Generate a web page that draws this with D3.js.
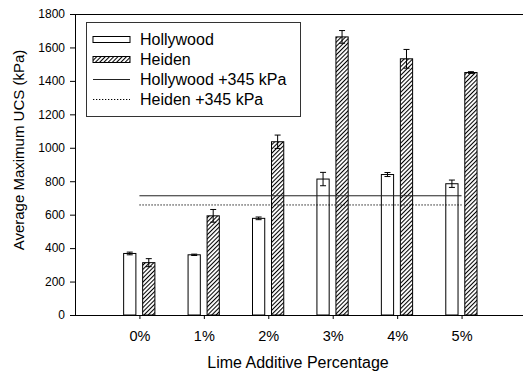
<!DOCTYPE html>
<html>
<head>
<meta charset="utf-8">
<script src="https://cdn.jsdelivr.net/npm/d3@7"></script>
<style>
  html, body { margin: 0; padding: 0; background: #fff; }
  svg { display: block; font-family: "Liberation Sans", Arial, sans-serif; }
</style>
</head>
<body>
<svg id="chart" width="523" height="373"></svg>
<script>
// Lime additive levels and average maximum UCS (kPa) per soil
const categories = ["0%", "1%", "2%", "3%", "4%", "5%"];
const hollywood = [368, 360, 578, 813, 840, 785];
const hollywoodErr = [8, 4, 8, 40, 12, 22];
const heiden = [313, 593, 1036, 1663, 1532, 1450];
const heidenErr = [24, 38, 40, 38, 56, 5];
const increment = 345;   // target strength gain over untreated soil
const yTicks = [0, 200, 400, 600, 800, 1000, 1200, 1400, 1600, 1800];
const legendLabels = ["Hollywood", "Heiden", "Hollywood +345 kPa", "Heiden +345 kPa"];

const svg = d3.select("#chart");
const plotLeft = 75, plotRight = 526, plotTop = 14, plotBottom = 315;

const x = d3.scaleLinear().domain([-1, 6]).range([plotLeft, plotRight]);
const y = d3.scaleLinear().domain([0, 1800]).range([plotBottom, plotTop]);

// diagonal hatch for Heiden bars
const defs = svg.append("defs");
defs.append("pattern")
  .attr("id", "hatch")
  .attr("patternUnits", "userSpaceOnUse")
  .attr("width", 3).attr("height", 3)
  .attr("patternTransform", "rotate(45)")
  .call(p => {
    p.append("rect").attr("width", 3).attr("height", 3).attr("fill", "#fff");
    p.append("line").attr("x1", 0.5).attr("y1", 0).attr("x2", 0.5).attr("y2", 3)
      .attr("stroke", "#000").attr("stroke-width", 1.1);
  });

const barW = 0.19;
const offH = -0.15, offD = 0.145;

function drawBars(vals, errs, off, fill) {
  const g = svg.append("g");
  vals.forEach((v, i) => {
    const x0 = x(i + off - barW / 2), x1 = x(i + off + barW / 2);
    g.append("rect")
      .attr("x", x0).attr("y", y(v))
      .attr("width", x1 - x0).attr("height", y(0) - y(v))
      .attr("fill", fill).attr("stroke", "#000").attr("stroke-width", 1);
  });
  vals.forEach((v, i) => {
    const cx = x(i + off), e = errs[i];
    g.append("line").attr("x1", cx).attr("x2", cx)
      .attr("y1", y(v + e)).attr("y2", y(v - e))
      .attr("stroke", "#000").attr("stroke-width", 1);
    [v + e, v - e].forEach(t => {
      g.append("line").attr("x1", cx - 3).attr("x2", cx + 3)
        .attr("y1", y(t)).attr("y2", y(t))
        .attr("stroke", "#000").attr("stroke-width", 1);
    });
  });
}
drawBars(hollywood, hollywoodErr, offH, "#fff");
drawBars(heiden, heidenErr, offD, "url(#hatch)");

// reference lines: untreated strength + 345 kPa
svg.append("line")
  .attr("x1", x(0)).attr("x2", x(categories.length - 1))
  .attr("y1", y(hollywood[0] + increment)).attr("y2", y(hollywood[0] + increment))
  .attr("stroke", "#222").attr("stroke-width", 1);
svg.append("line")
  .attr("x1", x(0)).attr("x2", x(categories.length - 1))
  .attr("y1", y(heiden[0] + increment)).attr("y2", y(heiden[0] + increment))
  .attr("stroke", "#000").attr("stroke-width", 1).attr("stroke-dasharray", "1.3,1.7");

// axes
const yAxis = svg.append("g")
  .attr("transform", `translate(${plotLeft},0)`)
  .call(d3.axisLeft(y).tickValues(yTicks).tickSize(5).tickPadding(5).tickFormat(d3.format("d")));
yAxis.select(".domain").attr("d", `M0.5,${plotTop}V${plotBottom}`);
yAxis.selectAll("text").attr("font-size", 12).attr("fill", "#000").attr("font-family", "Liberation Sans, Arial, sans-serif");

const xAxis = svg.append("g")
  .attr("transform", `translate(0,${plotBottom})`)
  .call(d3.axisBottom(x).tickValues(d3.range(categories.length))
    .tickFormat(i => categories[i]).tickSize(4).tickPadding(12));
xAxis.select(".domain").attr("d", `M${plotLeft},0.5H523`);
xAxis.selectAll("text").attr("font-size", 14.5).attr("fill", "#000").attr("font-family", "Liberation Sans, Arial, sans-serif");

// top frame line
svg.append("line").attr("x1", plotLeft).attr("x2", 523).attr("y1", plotTop + 0.5).attr("y2", plotTop + 0.5)
  .attr("stroke", "#000").attr("stroke-width", 1);

// axis titles
svg.append("text")
  .attr("transform", "translate(24,150) rotate(-90)")
  .attr("text-anchor", "middle").attr("font-size", 15).attr("fill", "#000")
  .text("Average Maximum UCS (kPa)");
svg.append("text")
  .attr("x", 298).attr("y", 368)
  .attr("text-anchor", "middle").attr("font-size", 16).attr("fill", "#000")
  .text("Lime Additive Percentage");

// legend
const lg = svg.append("g");
lg.append("rect").attr("x", 86.5).attr("y", 22.5).attr("width", 214).attr("height", 94)
  .attr("fill", "#fff").attr("stroke", "#333").attr("stroke-width", 1);
const rowY = [39.5, 59.5, 79.5, 99.5];
const sx0 = 93, sx1 = 130;
lg.append("rect").attr("x", sx0).attr("y", rowY[0] - 3).attr("width", sx1 - sx0).attr("height", 6)
  .attr("fill", "#fff").attr("stroke", "#000");
lg.append("rect").attr("x", sx0).attr("y", rowY[1] - 3).attr("width", sx1 - sx0).attr("height", 6)
  .attr("fill", "url(#hatch)").attr("stroke", "#000");
lg.append("line").attr("x1", sx0).attr("x2", sx1).attr("y1", rowY[2]).attr("y2", rowY[2])
  .attr("stroke", "#222");
lg.append("line").attr("x1", sx0).attr("x2", sx1).attr("y1", rowY[3]).attr("y2", rowY[3])
  .attr("stroke", "#000").attr("stroke-dasharray", "1.3,1.7");
legendLabels.forEach((t, i) => {
  lg.append("text").attr("x", 140).attr("y", rowY[i] + 5.8)
    .attr("font-size", 16).attr("fill", "#000").text(t);
});
</script>
</body>
</html>
